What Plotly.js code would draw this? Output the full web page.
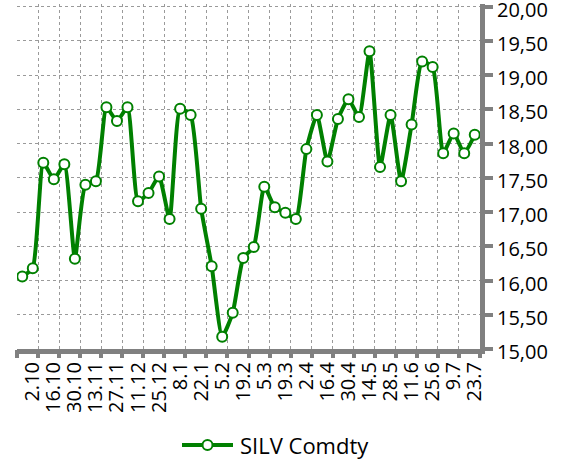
<!DOCTYPE html>
<html>
<head>
<meta charset="utf-8">
<script src="https://cdn.plot.ly/plotly-3.0.1.min.js"></script>
<style>html,body{margin:0;padding:0;background:#fff;}#chart{width:568px;height:459px;}</style>
</head>
<body>
<div id="chart"></div>
<script>
const dates = ["25.9","2.10","9.10","16.10","23.10","30.10","6.11","13.11","20.11","27.11","4.12","11.12","18.12","25.12","1.1","8.1","15.1","22.1","29.1","5.2","12.2","19.2","26.2","5.3","12.3","19.3","26.3","2.4","9.4","16.4","23.4","30.4","7.5","14.5","21.5","28.5","4.6","11.6","18.6","25.6","2.7","9.7","16.7","23.7"];
const silv = [16.06,16.18,17.72,17.48,17.70,16.32,17.40,17.45,18.53,18.33,18.53,17.16,17.28,17.52,16.90,18.51,18.42,17.05,16.21,15.18,15.53,16.33,16.49,17.37,17.07,16.99,16.90,17.92,18.42,17.74,18.36,18.65,18.39,19.35,17.66,18.42,17.45,18.28,19.20,19.12,17.86,18.15,17.86,18.13];
const tickLabels = ["2.10","16.10","30.10","13.11","27.11","11.12","25.12","8.1","22.1","5.2","19.2","5.3","19.3","2.4","16.4","30.4","14.5","28.5","11.6","25.6","9.7","23.7"];
const yTicks = [15, 15.5, 16, 16.5, 17, 17.5, 18, 18.5, 19, 19.5, 20];
const seriesName = "SILV Comdty";

const W = 568, H = 459;
const M = {l: 17, r: 88, t: 4, b: 110};
const n = dates.length;
const boundaries = [];
for (let i = -0.5; i <= n - 0.5 + 1e-9; i += 2) boundaries.push(i);

const FONT = "'Open Sans', sans-serif";
const GRAY = "#808080";
const GRID = "#9a9a9a";
const GREEN = "#008000";

// pixel -> paper helpers for the custom legend
const pw = W - M.l - M.r, ph = H - M.t - M.b;
const px = v => (v - M.l) / pw;
const py = v => (H - M.b - v) / ph;

const trace = {
  x: dates, y: silv, type: "scatter", mode: "lines+markers", name: seriesName,
  line: {color: GREEN, width: 4, shape: "spline", smoothing: 0.5},
  marker: {symbol: "circle", size: 10, color: "#ffffff", line: {color: GREEN, width: 2}},
  xaxis: "x", yaxis: "y", showlegend: false
};

const legY = 445;
const layout = {
  width: W, height: H,
  margin: M,
  paper_bgcolor: "#fff", plot_bgcolor: "#fff",
  separators: ", ",
  font: {family: FONT, size: 20, color: "#000"},
  showlegend: false,
  xaxis: {
    type: "category", categoryorder: "array", categoryarray: dates,
    range: [-0.5, n - 0.5], tickmode: "array", tickvals: tickLabels, ticktext: tickLabels,
    tickangle: -90, ticks: "", showgrid: false, zeroline: false,
    showline: true, linecolor: GRAY, linewidth: 5,
    tickfont: {size: 20}
  },
  xaxis2: {
    overlaying: "x", anchor: "y", side: "bottom", type: "linear",
    range: [-0.5, n - 0.5], tickmode: "array", tickvals: boundaries,
    showticklabels: false, ticks: "outside", ticklen: 8, tickwidth: 4, tickcolor: GRAY,
    showgrid: true, gridcolor: GRID, gridwidth: 1, griddash: "3px,3px", zeroline: false, showline: false
  },
  yaxis: {
    side: "right", range: [15, 20.04], tickmode: "array", tickvals: yTicks, tickformat: ".2f",
    ticklabeloverflow: "allow", ticklabelshift: 3,
    showgrid: true, gridcolor: GRID, gridwidth: 1, griddash: "3px,3px", zeroline: false,
    showline: true, linecolor: GRAY, linewidth: 5,
    ticks: "outside", ticklen: 8, tickwidth: 4, tickcolor: GRAY,
    tickfont: {size: 20}
  },
  shapes: [
    {type: "line", xref: "paper", yref: "paper", x0: px(182), x1: px(233), y0: py(legY), y1: py(legY),
     line: {color: GREEN, width: 4}},
    {type: "circle", xref: "paper", yref: "paper", xsizemode: "pixel", ysizemode: "pixel",
     xanchor: px(207.5), yanchor: py(legY), x0: -5, x1: 5, y0: -5, y1: 5,
     fillcolor: "#ffffff", line: {color: GREEN, width: 2}}
  ],
  annotations: [
    {text: seriesName, xref: "paper", yref: "paper", x: px(238), y: py(legY), xanchor: "left", yanchor: "middle",
     showarrow: false, font: {size: 22, color: "#000"}}
  ]
};

const gridTrace = {x: [], y: [], xaxis: "x2", yaxis: "y", showlegend: false, hoverinfo: "skip", type: "scatter"};

Plotly.newPlot("chart", [gridTrace, trace], layout, {displayModeBar: false, staticPlot: true});
</script>
</body>
</html>
